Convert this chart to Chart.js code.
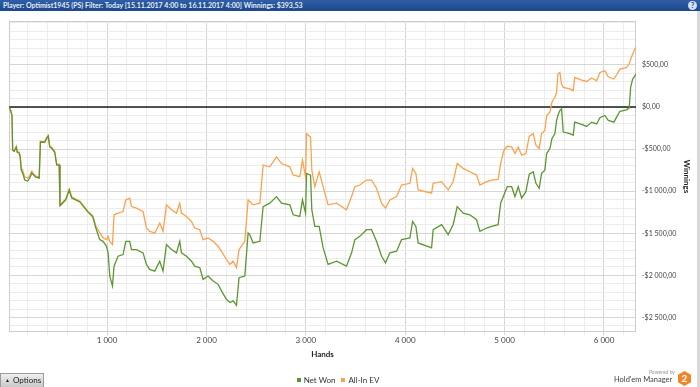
<!DOCTYPE html>
<html><head><meta charset="utf-8">
<script src="https://cdn.jsdelivr.net/npm/chart.js@4.4.1/dist/chart.umd.min.js"></script>
<style>
html,body{margin:0;padding:0;width:700px;height:387px;overflow:hidden;background:#fff;font-family:Lato,"Noto Sans",sans-serif;}
#hdr{position:absolute;left:0;top:0;width:700px;height:11px;background:linear-gradient(#2f5fa6,#1b478c);color:#e4ecf7;font-size:7px;font-weight:bold;line-height:11px;white-space:nowrap;}
#hdr span.t{position:absolute;left:3px;top:0;}
#help{position:absolute;left:688px;top:1px;width:9px;height:9px;border-radius:50%;background:#d3deee;color:#1b478c;font-size:7px;line-height:9px;text-align:center;font-weight:bold;}
#wrap{position:absolute;left:0;top:11px;width:697px;height:376px;}
#strip{position:absolute;left:697px;top:11px;width:3px;height:376px;background:#d8d8d8;}
#legend{position:absolute;top:375px;left:0;width:676px;text-align:center;font-size:8px;color:#333;line-height:10px;}
#legend .it{display:inline-block;margin:0 3px;}
#legend .sq{display:inline-block;width:4px;height:4px;margin-right:3px;vertical-align:1px;}
#opt{position:absolute;left:0;top:373px;width:42px;height:13px;border:1px solid #9c9c9c;background:linear-gradient(#efefef,#c8c8c8);font-size:8px;line-height:13px;color:#222;}
#opt .tri{position:absolute;left:4px;top:0;font-size:5px;}
#opt .tx{position:absolute;left:12px;top:0;}
#pw{position:absolute;left:649px;top:369px;font-size:5px;color:#9a9a9a;}
#hm{position:absolute;left:614px;top:375px;font-size:7.5px;color:#444;}
#hex{position:absolute;left:678px;top:371px;width:13px;height:15px;background:#f0852a;clip-path:polygon(50% 0,100% 25%,100% 75%,50% 100%,0 75%,0 25%);color:#fff;font-weight:bold;font-size:10px;line-height:15px;text-align:center;}
</style></head><body>
<div id="hdr"><span class="t">Player: Optimist1945 (PS) Filter: Today [15.11.2017 4:00 to 16.11.2017 4:00] Winnings: $393,53</span></div>
<div id="help">?</div>
<div id="strip"></div>
<div id="wrap"><canvas id="c" width="697" height="376"></canvas></div>
<div id="legend"></div>
<div id="opt"><span class="tri">&#9650;</span><span class="tx">Options</span></div>
<div id="pw">Powered by</div>
<div id="hm">Hold'em Manager</div>
<div id="hex">2</div>
<script>
const hands = [13,30,43,50,65,86,96,116,126,136,151,171,201,221,242,262,282,317,329,372,393,408,423,443,473,493,518,526,554,584,619,644,684,725,765,805,856,886,926,959,994,1010,1027,1054,1070,1110,1161,1188,1228,1245,1295,1362,1396,1429,1480,1530,1563,1597,1648,1698,1731,1748,1799,1849,1882,1933,1966,2016,2067,2117,2161,2201,2235,2268,2302,2328,2386,2419,2436,2469,2537,2570,2637,2705,2755,2839,2872,2939,2966,2997,3007,3047,3060,3090,3134,3174,3224,3309,3409,3460,3493,3543,3611,3661,3711,3762,3802,3845,3913,3963,4047,4074,4107,4130,4265,4281,4366,4432,4482,4523,4583,4650,4718,4751,4819,4869,4935,4960,4993,5026,5071,5104,5137,5171,5214,5248,5288,5315,5348,5372,5405,5423,5456,5476,5506,5523,5536,5556,5573,5590,5657,5690,5705,5775,5825,5876,5926,5959,6009,6043,6100,6127,6160,6228,6254,6268,6288,6305,6322];
const netWon = [0,-41,-100,-513,-525,-478,-537,-549,-596,-749,-785,-867,-879,-844,-785,-808,-832,-844,-415,-419,-372,-345,-474,-490,-537,-690,-690,-1174,-1139,-1103,-985,-1080,-1103,-1127,-1186,-1245,-1304,-1434,-1575,-1595,-1654,-1729,-2008,-2126,-1890,-1772,-1752,-1595,-1595,-1693,-1693,-1732,-1870,-1929,-1949,-1831,-1949,-1634,-1693,-1732,-1595,-1732,-1772,-1831,-1890,-1909,-2047,-2008,-2067,-2106,-2204,-2283,-2322,-2303,-2354,-2027,-2008,-1496,-1516,-1614,-1595,-1182,-1142,-1064,-1142,-1162,-1280,-1300,-1103,-1260,-788,-808,-1221,-1418,-1418,-1673,-1870,-1831,-1890,-1732,-1575,-1536,-1457,-1457,-1595,-1772,-1850,-1732,-1713,-1575,-1555,-1359,-1418,-1614,-1673,-1457,-1398,-1516,-1398,-1182,-1260,-1280,-1339,-1477,-1437,-1418,-1398,-1142,-1044,-946,-946,-1064,-946,-1083,-1005,-797,-769,-906,-965,-788,-749,-552,-493,-375,-316,-159,-100,-41,-21,-297,-316,-336,-179,-207,-230,-179,-201,-127,-100,-159,-179,-120,-50,-33,-9,234,333,360,393.53];
const allInEV = [0,-41,-100,-513,-525,-466,-525,-537,-584,-726,-749,-832,-844,-820,-761,-797,-820,-832,-407,-407,-360,-336,-466,-478,-525,-679,-679,-1162,-1127,-1092,-974,-1068,-1092,-1115,-1174,-1233,-1292,-1410,-1493,-1552,-1575,-1536,-1595,-1634,-1280,-1260,-1241,-1103,-1083,-1182,-1201,-1241,-1437,-1477,-1496,-1378,-1477,-1162,-1221,-1260,-1142,-1260,-1300,-1359,-1437,-1457,-1575,-1555,-1595,-1654,-1732,-1811,-1870,-1831,-1909,-1693,-1595,-1103,-1123,-1162,-1142,-690,-710,-592,-671,-710,-808,-828,-631,-828,-316,-356,-749,-946,-769,-946,-1162,-1142,-1221,-1064,-946,-926,-867,-867,-965,-1142,-1201,-1103,-1064,-926,-906,-729,-788,-985,-1024,-906,-887,-985,-887,-670,-729,-769,-808,-926,-887,-867,-859,-670,-513,-466,-474,-552,-474,-572,-552,-348,-316,-454,-493,-316,-277,-100,-61,57,116,175,392,411,274,234,215,195,352,321,304,345,313,411,431,360,333,384,451,470,517,569,628,675,714];
const seriesLabels = ['Net Won','All-In EV'];
const xMajorLabels = [1000,2000,3000,4000,5000,6000];
const yMajorLabels = [-2500,-2000,-1500,-1000,-500,0,500];
const xRange = [13, 6322];
const yRange = [-2670, 1020];
const xMinorStep = 200, yMinorStep = 100;

const GREEN = '#5c9631', ORANGE = '#fda24c';

function group(n){ return String(Math.round(n)).replace(/\B(?=(\d{3})+(?!\d))/g,' '); }
function fmtMoney(v){ return (v<0?'-':'') + '$' + group(Math.abs(v)) + ',00'; }
function stepTicks(min,max,step){ const a=[]; for(let v=Math.ceil(min/step)*step; v<=max; v+=step) a.push({value:v}); return a; }

const borderPlugin = {
  id:'frame',
  beforeDatasetsDraw(chart){
    const {ctx, chartArea:a} = chart;
    ctx.save(); ctx.strokeStyle='#cdcdcd'; ctx.lineWidth=1;
    ctx.strokeRect(Math.round(a.left)+0.5, Math.round(a.top)+0.5, Math.round(a.right-a.left)-1, Math.round(a.bottom-a.top)-1);
    const y0 = chart.scales.y.getPixelForValue(0);
    ctx.strokeStyle='#1e1e1e'; ctx.lineWidth=1.6;
    ctx.beginPath(); ctx.moveTo(a.left, y0); ctx.lineTo(a.right, y0); ctx.stroke();
    ctx.restore();
  }
};

const chart = new Chart(document.getElementById('c'), {
  type:'line',
  data:{ datasets:[
    {label:seriesLabels[0], data:hands.map((h,i)=>({x:h,y:netWon[i]})), borderColor:GREEN, backgroundColor:GREEN, borderWidth:1.3, pointRadius:0, tension:0},
    {label:seriesLabels[1], data:hands.map((h,i)=>({x:h,y:allInEV[i]})), borderColor:ORANGE, backgroundColor:ORANGE, borderWidth:1.3, pointRadius:0, tension:0}
  ]},
  options:{
    responsive:false, animation:false, devicePixelRatio:1,
    layout:{padding:{left:9, top:9, right:4, bottom:24}},
    plugins:{legend:{display:false}, tooltip:{enabled:false}},
    scales:{
      x:{type:'linear', min:xRange[0], max:xRange[1],
        afterBuildTicks:ax=>{ ax.ticks = stepTicks(xRange[0], xRange[1], xMinorStep); },
        ticks:{autoSkip:false, maxRotation:0, padding:1, color:'#444', font:{family:'Lato', size:8},
          callback:v=> xMajorLabels.includes(v) ? group(v) : ''},
        grid:{tickLength:3, color:c=> (c.tick && xMajorLabels.includes(c.tick.value)) ? '#d6d6d6' : '#ececec'},
        border:{display:false},
        title:{display:true, text:'Hands', color:'#222', font:{family:'Lato', size:8, weight:'bold'}, padding:{top:3,bottom:4}}
      },
      y:{position:'right', min:yRange[0], max:yRange[1],
        afterBuildTicks:ax=>{ ax.ticks = stepTicks(yRange[0], yRange[1], yMinorStep); },
        afterFit:ax=>{ ax.width = 57; },
        ticks:{autoSkip:false, padding:6, color:'#444', font:{family:'Lato', size:7},
          callback:v=> yMajorLabels.includes(v) ? fmtMoney(v) : ''},
        grid:{drawTicks:false, color:c=> (c.tick && yMajorLabels.includes(c.tick.value)) ? '#d6d6d6' : '#ececec'},
        border:{display:false},
        title:{display:true, text:'Winnings', color:'#222', font:{family:'Lato', size:8, weight:'bold'}, padding:{top:2,bottom:2}}
      }
    }
  },
  plugins:[borderPlugin]
});

const items = chart.options.plugins.legend.labels.generateLabels(chart);
document.getElementById('legend').innerHTML = items.map(it =>
  '<span class="it"><span class="sq" style="background:'+it.fillStyle+'"></span>'+it.text+'</span>').join('');
</script>
</body></html>
